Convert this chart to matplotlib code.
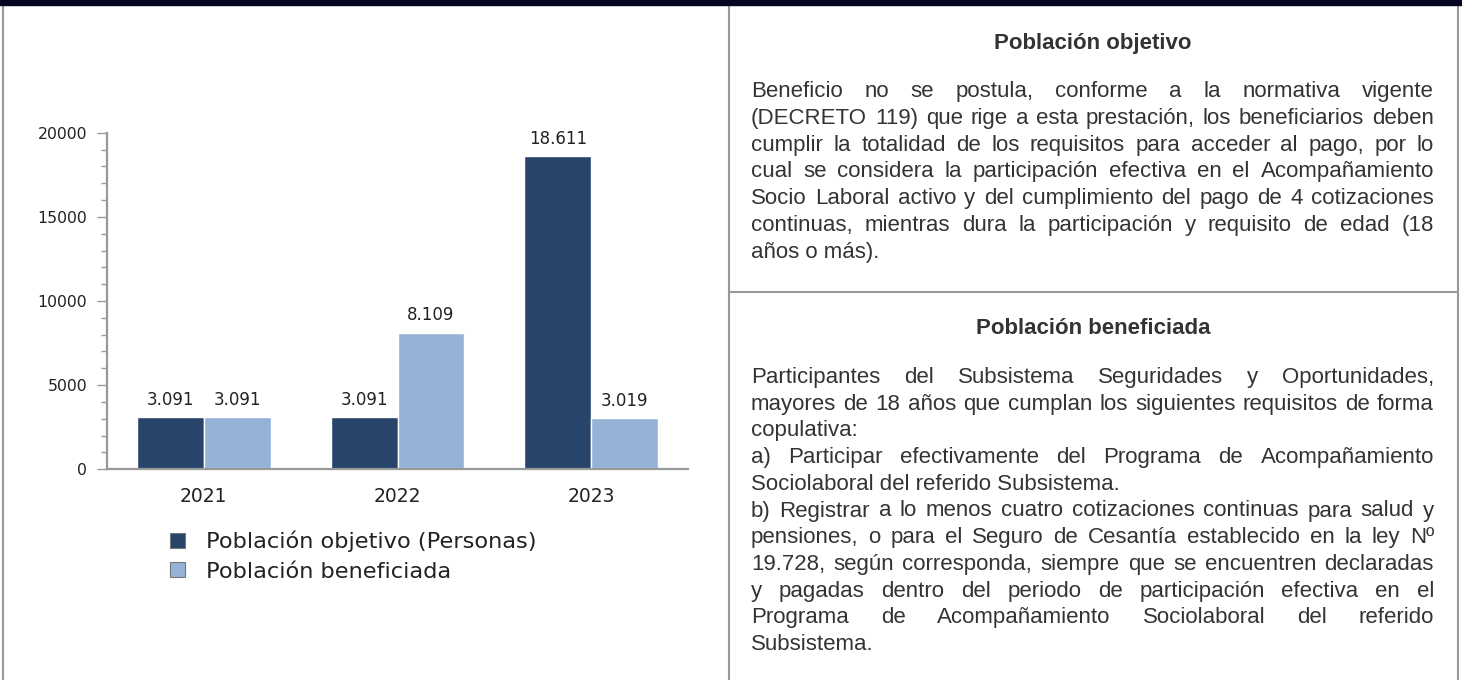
import matplotlib
matplotlib.use("Agg")
import matplotlib.pyplot as plt
from matplotlib.patches import Patch, Rectangle
from matplotlib.ticker import MultipleLocator
import numpy as np

# ---------------- data ----------------
years = ["2021", "2022", "2023"]
objetivo = [3091, 3091, 18611]
beneficiada = [3091, 8109, 3019]
series_names = ["Población objetivo (Personas)", "Población beneficiada"]
y_ticks = [0, 5000, 10000, 15000, 20000]

title_1 = "Población objetivo"
lines_1 = [
    "Beneficio no se postula, conforme a la normativa vigente",
    "(DECRETO 119) que rige a esta prestación, los beneficiarios deben",
    "cumplir la totalidad de los requisitos para acceder al pago, por lo",
    "cual se considera la participación efectiva en el Acompañamiento",
    "Socio Laboral activo y del cumplimiento del pago de 4 cotizaciones",
    "continuas, mientras dura la participación y requisito de edad (18",
    "años o más).",
]
justify_1 = [True, True, True, True, True, True, False]

title_2 = "Población beneficiada"
lines_2 = [
    "Participantes del Subsistema Seguridades y Oportunidades,",
    "mayores de 18 años que cumplan los siguientes requisitos de forma",
    "copulativa:",
    "a) Participar efectivamente del Programa de Acompañamiento",
    "Sociolaboral del referido Subsistema.",
    "b) Registrar a lo menos cuatro cotizaciones continuas para salud y",
    "pensiones, o para el Seguro de Cesantía establecido en la ley Nº",
    "19.728, según corresponda, siempre que se encuentren declaradas",
    "y pagadas dentro del periodo de participación efectiva en el",
    "Programa de Acompañamiento Sociolaboral del referido",
    "Subsistema.",
]
justify_2 = [True, True, False, True, False, True, True, True, True, True, False]

# ---------------- style ----------------
W, H = 1462, 680
DARK = "#27446a"
LIGHT = "#95b3d7"
GRID = "#999999"
TXT = "#333333"
BODY_FONT = ["Liberation Sans", "DejaVu Sans"]
BODY_SIZE = 16
TITLE_SIZE = 16

fig = plt.figure(figsize=(W / 100, H / 100), dpi=100)
fig.patch.set_facecolor("white")

bg = fig.add_axes([0, 0, 1, 1])
bg.set_xlim(0, W)
bg.set_ylim(H, 0)
bg.axis("off")

# frame / borders
bg.add_patch(Rectangle((0, 0), W, 5, color="#05061f", zorder=5))
lw = 1.5
bg.plot([3, 3], [0, H], color=GRID, lw=lw)
bg.plot([728.5, 728.5], [0, H], color=GRID, lw=lw)
bg.plot([1458, 1458], [0, H], color=GRID, lw=lw)
bg.plot([728.5, 1458], [292, 292], color=GRID, lw=lw)

renderer = fig.canvas.get_renderer()
TX0, TX1 = 751, 1434


def word_width(w):
    t = bg.text(0, 0, w, fontsize=BODY_SIZE, family=BODY_FONT)
    bb = t.get_window_extent(renderer)
    t.remove()
    return bb.width


def draw_paragraph(lines, flags, y0, step):
    for i, (line, just) in enumerate(zip(lines, flags)):
        y = y0 + i * step
        if not just:
            bg.text(TX0, y, line, fontsize=BODY_SIZE, family=BODY_FONT,
                    color=TXT, ha="left", va="baseline")
            continue
        words = line.split(" ")
        widths = [word_width(w) for w in words]
        gap = (TX1 - TX0 - sum(widths)) / (len(words) - 1)
        x = TX0
        for w, wd in zip(words, widths):
            bg.text(x, y, w, fontsize=BODY_SIZE, family=BODY_FONT,
                    color=TXT, ha="left", va="baseline")
            x += wd + gap


cx = (728.5 + 1458) / 2
bg.text(cx, 49, title_1, fontsize=TITLE_SIZE, family=BODY_FONT, weight="bold",
        color=TXT, ha="center", va="baseline")
draw_paragraph(lines_1, justify_1, 97, 26.8)
bg.text(cx, 334, title_2, fontsize=TITLE_SIZE, family=BODY_FONT, weight="bold",
        color=TXT, ha="center", va="baseline")
draw_paragraph(lines_2, justify_2, 383, 26.7)

# ---------------- chart ----------------
ax = fig.add_axes([107 / W, (H - 469.3) / H, 581 / W, 336.6 / H])
x = np.arange(len(years))
bw = 0.345
b1 = ax.bar(x - bw / 2, objetivo, bw, color=DARK, edgecolor="white", lw=1)
b2 = ax.bar(x + bw / 2, beneficiada, bw, color=LIGHT, edgecolor="white", lw=1)

for bars, vals in ((b1, objetivo), (b2, beneficiada)):
    for rect, v in zip(bars, vals):
        ax.annotate(f"{v:,}".replace(",", "."),
                    (rect.get_x() + rect.get_width() / 2, v),
                    xytext=(0, 12.5), textcoords="offset points",
                    ha="center", va="center", fontsize=12, color="#222222",
                    family="DejaVu Sans")

ax.set_xlim(-0.5, len(years) - 0.5)
ax.set_ylim(0, 20000)
ax.set_yticks(y_ticks)
ax.yaxis.set_minor_locator(MultipleLocator(1000))
ax.set_xticks(x)
ax.set_xticklabels(years)
for s in ("top", "right"):
    ax.spines[s].set_visible(False)
for s in ("left", "bottom"):
    ax.spines[s].set_color(GRID)
    ax.spines[s].set_linewidth(1.6)
ax.tick_params(axis="y", which="major", length=7.2, width=1, color=GRID,
               labelsize=11.3, labelcolor="#222222", pad=7)
ax.tick_params(axis="y", which="minor", length=4.3, width=1, color=GRID)
ax.tick_params(axis="x", length=0, labelsize=13.5, labelcolor="#222222", pad=12.5)
ax.set_facecolor("none")

handles = [Patch(facecolor=DARK, edgecolor="#777777", lw=0.8),
           Patch(facecolor=LIGHT, edgecolor="#777777", lw=0.8)]
leg = fig.legend(handles, series_names, loc="upper left",
                 bbox_to_anchor=(170 / W, 1 - 531 / H), frameon=False,
                 fontsize=16.2, handlelength=0.67, handleheight=0.67,
                 handletextpad=0.93, labelspacing=0.41, borderpad=0,
                 borderaxespad=0)
for t in leg.get_texts():
    t.set_color("#222222")

fig.savefig("out.png", dpi=100, facecolor="white")
